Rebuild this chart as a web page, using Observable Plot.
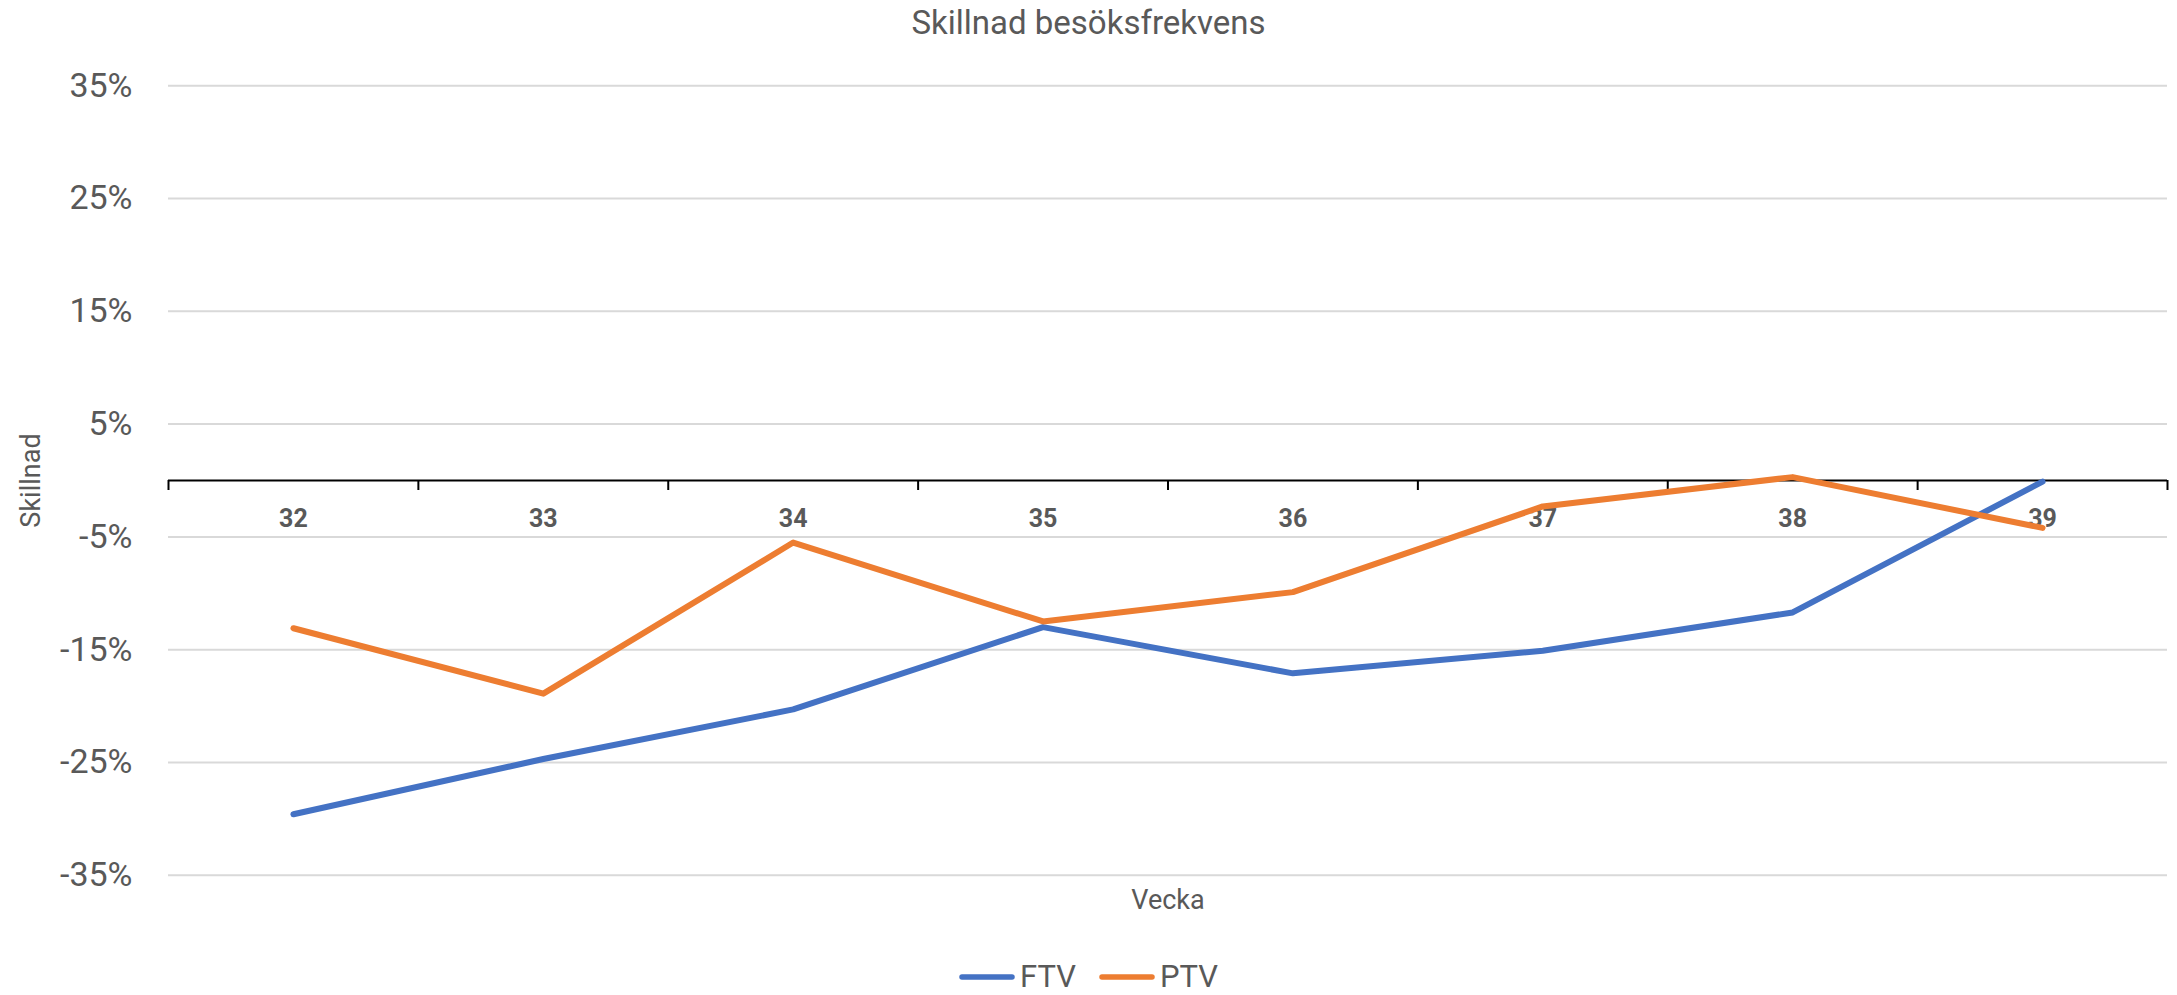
<!DOCTYPE html>
<html>
<head>
<meta charset="utf-8">
<script src="https://cdn.jsdelivr.net/npm/d3@7"></script>
<script src="https://cdn.jsdelivr.net/npm/@observablehq/plot@0.6"></script>
<style>
  html, body { margin: 0; padding: 0; background: #fff; overflow: hidden; }
  body { width: 2177px; height: 995px; position: relative; font-family: Roboto, sans-serif; }
  #title { height: 50px; line-height: 46px; text-align: center; font-size: 33px; color: #595959; }
  #chart svg { display: block; }
  #legend { position: absolute; top: 960px; left: 0; width: 2177px; height: 34px; display: flex;
            justify-content: center; align-items: center; font-size: 31px; line-height: 34px; color: #595959; }
  .item { display: flex; align-items: center; }
  .item svg { display: block; margin-right: 5px; }
  .item + .item { margin-left: 23px; }
</style>
</head>
<body>
<div id="title"></div>
<div id="chart"></div>
<div id="legend"></div>
<script>
const titleText = "Skillnad besöksfrekvens";
const xLabel = "Vecka";
const yLabel = "Skillnad";
const weeks = [32, 33, 34, 35, 36, 37, 38, 39];
const ftv = [-29.6, -24.7, -20.3, -13.0, -17.1, -15.1, -11.7, -0.1];
const ptv = [-13.1, -18.9, -5.5, -12.5, -9.9, -2.3, 0.3, -4.2];
const seriesNames = ["FTV", "PTV"];
const seriesColors = ["#4472C4", "#ED7D31"];
const yTicks = [-35, -25, -15, -5, 5, 15, 25, 35];

const seriesValues = [ftv, ptv];
const rows = seriesNames.flatMap((s, si) =>
  weeks.map((w, i) => ({series: s, week: w, value: seriesValues[si][i]})));
const bounds = weeks.map(w => w - 0.5).concat([weeks[weeks.length - 1] + 0.5]);

document.getElementById("title").textContent = titleText;

const chart = Plot.plot({
  width: 2177,
  height: 905,
  marginLeft: 168,
  marginRight: 10,
  marginTop: 35.3,
  marginBottom: 80.3,
  style: {fontFamily: "Roboto, sans-serif", background: "white", overflow: "visible"},
  x: {domain: [bounds[0], bounds[bounds.length - 1]], axis: null},
  y: {domain: [-35, 35], axis: null},
  color: {domain: seriesNames, range: seriesColors},
  marks: [
    Plot.ruleY(yTicks, {y: d => d, stroke: "#D9D9D9", strokeWidth: 2}),
    Plot.text(yTicks, {frameAnchor: "left", y: d => d, text: d => d + "%", textAnchor: "end",
      lineAnchor: "middle", dx: -36, fontSize: 34, fill: "#595959"}),
    Plot.ruleY([0], {y: d => d, stroke: "#000", strokeWidth: 2}),
    Plot.ruleX(bounds, {x: d => d, y1: () => 0, y2: () => 0, insetBottom: -10, stroke: "#000", strokeWidth: 2}),
    Plot.text(weeks, {x: d => d, y: () => 0, dy: 38, text: d => String(d), textAnchor: "middle",
      lineAnchor: "middle", fontWeight: "bold", fontSize: 25, fill: "#595959"}),
    Plot.line(rows, {x: "week", y: "value", stroke: "series", z: "series", strokeWidth: 6,
      strokeLinejoin: "round", strokeLinecap: "round"}),
    Plot.text([xLabel], {frameAnchor: "bottom", dy: 25.3, text: d => d, textAnchor: "middle",
      lineAnchor: "middle", fontSize: 27, fill: "#595959"}),
    Plot.text([yLabel], {frameAnchor: "left", dx: -137, rotate: -90, text: d => d, textAnchor: "middle",
      lineAnchor: "middle", fontSize: 27, fill: "#595959"})
  ]
});
document.getElementById("chart").appendChild(chart);

const legend = document.getElementById("legend");
seriesNames.forEach((name, i) => {
  const item = document.createElement("div");
  item.className = "item";
  item.innerHTML = `<svg width="56" height="8"><line x1="3" y1="4" x2="53" y2="4" stroke="${seriesColors[i]}" stroke-width="5.5" stroke-linecap="round"/></svg><span>${name}</span>`;
  legend.appendChild(item);
});
</script>
</body>
</html>
